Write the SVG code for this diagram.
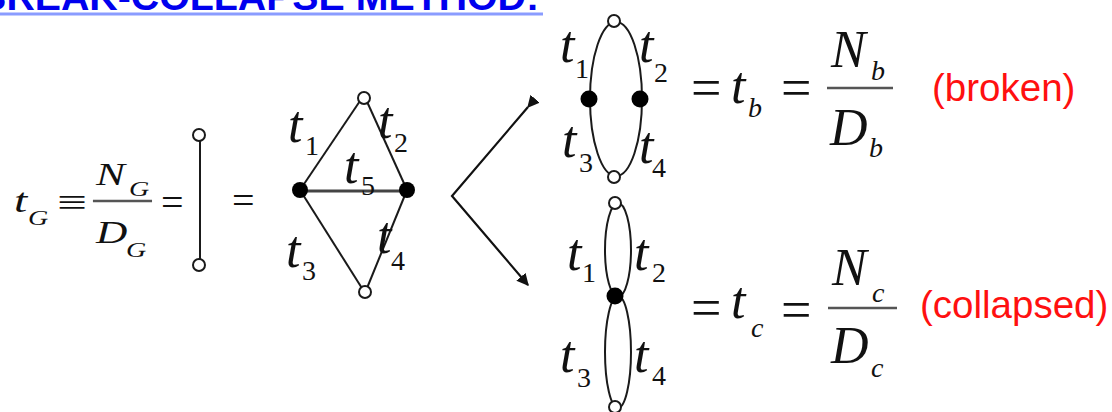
<svg xmlns="http://www.w3.org/2000/svg" width="1112" height="412" viewBox="0 0 1112 412">
<defs>
<style>
.m{font-family:"Liberation Serif","Times New Roman",serif;font-style:italic;fill:#111}
.r{font-family:"Liberation Serif","Times New Roman",serif;fill:#111}
.big{font-size:52px}
.sub{font-size:28px}
.eq{font-family:"Liberation Serif","Times New Roman",serif;fill:#111;font-size:54px}
.red{font-family:"Liberation Sans",Arial,sans-serif;font-size:38.5px;fill:#ff1010}
.edge{stroke:#1a1a1a;stroke-width:2;fill:none}
.open{fill:#fff;stroke:#1a1a1a;stroke-width:2}
.dot{fill:#000}
.bar{stroke:#555;stroke-width:2.5}
</style>
<marker id="ah" viewBox="0 0 10 10" refX="9" refY="5" markerWidth="5.5" markerHeight="5.5" orient="auto">
<path d="M0,0 L10,5 L0,10 z" fill="#111"/>
</marker>
</defs>
<g id="title">
<text x="-22" y="10" font-family="Liberation Sans,Arial,sans-serif" font-weight="bold" font-size="39.3" fill="#0000ee">BREAK-COLLAPSE METHOD:</text>
<rect x="0" y="12.5" width="543" height="3" fill="#8a9cff"/>
</g>
<g id="formula-G" transform="matrix(1.4,0,0,1,-5.2,0)">
<text class="m" x="13.7" y="212" font-size="34">t</text>
<text class="m" x="23.7" y="225" font-size="20">G</text>
<text class="r" x="44.4" y="215" font-size="38">≡</text>
<text class="m" x="72.3" y="185" font-size="31">N</text>
<text class="m" x="95.9" y="196" font-size="20">G</text>
<line class="bar" x1="70.1" y1="201" x2="112.3" y2="201"/>
<text class="m" x="72.3" y="243" font-size="31">D</text>
<text class="m" x="93.7" y="257" font-size="20">G</text>
</g>
<text class="r" x="161" y="216" font-size="40">=</text>
<g id="graph-G">
<line class="edge" x1="200" y1="135" x2="200" y2="265"/>
<circle class="open" cx="199" cy="135" r="6"/>
<circle class="open" cx="199" cy="265" r="6"/>
</g>
<text class="r" x="232" y="214" font-size="40">=</text>
<g id="diamond">
<line class="edge" x1="364" y1="95" x2="300" y2="190"/>
<line class="edge" x1="364" y1="95" x2="407" y2="190"/>
<line class="edge" x1="300" y1="190" x2="365" y2="293"/>
<line class="edge" x1="407" y1="190" x2="365" y2="293"/>
<line x1="300" y1="191" x2="407" y2="191" stroke="#444" stroke-width="3"/>
<circle class="open" cx="364" cy="98" r="6"/>
<circle class="open" cx="365" cy="292" r="6"/>
<circle class="dot" cx="300" cy="190" r="8"/>
<circle class="dot" cx="407" cy="190" r="8"/>
<text class="m big" x="288" y="142">t</text><text class="r sub" x="305" y="155">1</text>
<text class="m big" x="378" y="138">t</text><text class="r sub" x="394" y="152">2</text>
<text class="m big" x="344" y="183">t</text><text class="r sub" x="361" y="195">5</text>
<text class="m big" x="286" y="267">t</text><text class="r sub" x="302" y="280">3</text>
<text class="m big" x="377" y="253">t</text><text class="r sub" x="391" y="270">4</text>
</g>
<g id="connectors">
<polyline points="528,107 452,196 528,285" fill="none" stroke="#111" stroke-width="2.2" marker-start="url(#ah)" marker-end="url(#ah)"/>
</g>
<g id="broken">
<ellipse class="edge" cx="616" cy="99" rx="26" ry="77"/>
<circle class="open" cx="614" cy="21" r="6"/>
<circle class="open" cx="614" cy="177" r="6"/>
<circle class="dot" cx="589" cy="99" r="8.5"/>
<circle class="dot" cx="640" cy="99" r="8.5"/>
<text class="m big" x="560" y="62">t</text><text class="r sub" x="575" y="78">1</text>
<text class="m big" x="639" y="62">t</text><text class="r sub" x="654" y="82">2</text>
<text class="m big" x="562" y="157">t</text><text class="r sub" x="579" y="172">3</text>
<text class="m big" x="639" y="163">t</text><text class="r sub" x="652" y="177">4</text>
</g>
<g id="formula-b">
<text class="eq" x="691" y="106">=</text>
<text class="m big" x="731" y="103">t</text>
<text class="m sub" x="748" y="117">b</text>
<text class="eq" x="781" y="106">=</text>
<text class="m big" x="831" y="67">N</text>
<text class="m sub" x="871" y="80">b</text>
<line class="bar" x1="827" y1="88" x2="893" y2="88"/>
<text class="m big" x="830" y="145">D</text>
<text class="m sub" x="869" y="157">b</text>
<text class="red" x="932" y="101">(broken)</text>
</g>
<g id="collapsed">
<ellipse class="edge" cx="618" cy="250" rx="13" ry="47"/>
<ellipse class="edge" cx="618" cy="352" rx="13" ry="56"/>
<circle class="open" cx="615" cy="203" r="6"/>
<circle class="dot" cx="615" cy="296" r="8.5"/>
<circle class="open" cx="615" cy="407" r="6"/>
<text class="m big" x="567" y="270">t</text><text class="r sub" x="582" y="282">1</text>
<text class="m big" x="634" y="270">t</text><text class="r sub" x="652" y="282">2</text>
<text class="m big" x="560" y="372">t</text><text class="r sub" x="577" y="387">3</text>
<text class="m big" x="634" y="372">t</text><text class="r sub" x="652" y="385">4</text>
</g>
<g id="formula-c">
<text class="eq" x="691" y="326">=</text>
<text class="m big" x="731" y="318">t</text>
<text class="m sub" x="751" y="337">c</text>
<text class="eq" x="781" y="328">=</text>
<text class="m big" x="832" y="285">N</text>
<text class="m sub" x="872" y="302">c</text>
<line class="bar" x1="828" y1="308" x2="897" y2="308"/>
<text class="m big" x="831" y="363">D</text>
<text class="m sub" x="871" y="377">c</text>
<text class="red" x="920" y="318">(collapsed)</text>
</g>
</svg>
